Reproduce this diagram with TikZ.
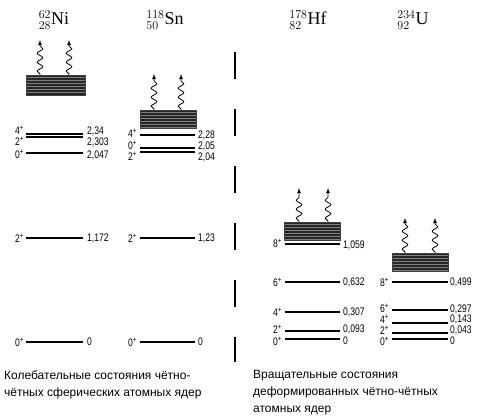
\documentclass[tikz,border=0pt]{standalone}
\usepackage{fontspec}
\setmainfont{Liberation Serif}
\setsansfont{Liberation Sans}
\newfontfamily\narrowfont[FakeStretch=0.78]{Liberation Sans}
\usetikzlibrary{decorations.pathmorphing}

\tikzset{
  level/.style={line width=1.1pt},
  spin/.style={anchor=east, font=\narrowfont\fontsize{11}{11}\selectfont, inner sep=0pt},
  energy/.style={anchor=west, font=\narrowfont\fontsize{11}{11}\selectfont, inner sep=0pt},
  nucleus/.style={font=\fontsize{18}{20}\selectfont},
  band/.style={draw=black!75, fill=black!50, inner sep=0pt, anchor=north west,
    path picture={
      \foreach \i in {1,...,14}
        \draw[black!85, line width=0.7pt]
          ([yshift=-\i*1.5pt]path picture bounding box.north west) --
          ([yshift=-\i*1.5pt]path picture bounding box.north east);
    }},
  photon/.style={-latex, line width=0.8pt, decorate,
    decoration={snake, amplitude=2.8pt, segment length=9pt, pre length=1pt, post length=5pt}},
  caption/.style={anchor=west, align=left, font=\sffamily\fontsize{12}{17}\selectfont, inner sep=0pt}
}

\begin{document}
\begin{tikzpicture}[x=1pt, y=-1pt]
    \useasboundingbox (0,0) rectangle (477,417);

    % Nuclei
    \node[nucleus] (ni) at (54,20) {$^{62}_{28}$Ni};
    \node[nucleus] (sn) at (165,20) {$^{118}_{50}$Sn};
    \node[nucleus] (hf) at (308,20) {$^{178}_{82}$Hf};
    \node[nucleus] (u) at (413,20) {$^{234}_{92}$U};

    % Dashed divider
    \draw[line width=1.3pt, dash pattern=on 27pt off 30pt] (235,52) -- (235,362);

    % Continuum bands
    \node[band, minimum width=59pt, minimum height=20pt] (niband) at (26,75) {};
    \node[band, minimum width=56pt, minimum height=18pt] (snband) at (140,110) {};
    \node[band, minimum width=56pt, minimum height=18pt] (hfband) at (284,222) {};
    \node[band, minimum width=56pt, minimum height=18pt] (uband) at (392,253) {};

    % Emitted gamma rays
    \coordinate (nitip1) at (40,40);
    \coordinate (nitip2) at (69,40);
    \coordinate (sntip1) at (154,74);
    \coordinate (sntip2) at (181,74);
    \coordinate (hftip1) at (299,188);
    \coordinate (hftip2) at (328,188);
    \coordinate (utip1) at (405,218);
    \coordinate (utip2) at (435,218);
    \draw[photon] (niband.north -| nitip1) -- (nitip1);
    \draw[photon] (niband.north -| nitip2) -- (nitip2);
    \draw[photon] (snband.north -| sntip1) -- (sntip1);
    \draw[photon] (snband.north -| sntip2) -- (sntip2);
    \draw[photon] (hfband.north -| hftip1) -- (hftip1);
    \draw[photon] (hfband.north -| hftip2) -- (hftip2);
    \draw[photon] (uband.north -| utip1) -- (utip1);
    \draw[photon] (uband.north -| utip2) -- (utip2);

    % Ni levels: line y / spin y / spin / energy y / energy
    \foreach \y/\sy/\s/\ey/\e [count=\k] in
      {134/130/4/131/{2,34}, 137/141/2/142/{2,303}, 153/154/0/155/{2,047},
       238/238/2/238/{1,172}, 342/342/0/342/0} {
      \draw[level] (26,\y) -- (83,\y);
      \node[spin] (nis\k) at (24,\sy) {\s\textsuperscript{+}};
      \node[energy] (nie\k) at (87,\ey) {\e};
    }

    % Sn levels
    \foreach \y/\sy/\s/\ey/\e [count=\k] in
      {135/133/4/135/{2,28}, 148/145/0/146/{2,05}, 152/156/2/157/{2,04},
       238/238/2/238/{1,23}, 342/342/0/342/0} {
      \draw[level] (140,\y) -- (195,\y);
      \node[spin] (sns\k) at (137,\sy) {\s\textsuperscript{+}};
      \node[energy] (sne\k) at (198,\ey) {\e};
    }

    % Hf levels
    \foreach \y/\sy/\s/\ey/\e [count=\k] in
      {244/243/8/245/{1,059}, 282/282/6/282/{0,632}, 312/312/4/312/{0,307},
       331/329/2/329/{0,093}, 339/341/0/341/0} {
      \draw[level] (285,\y) -- (340,\y);
      \node[spin] (hfs\k) at (282,\sy) {\s\textsuperscript{+}};
      \node[energy] (hfe\k) at (343,\ey) {\e};
    }

    % U levels
    \foreach \y/\sy/\s/\ey/\e [count=\k] in
      {282/282/8/282/{0,499}, 310/308/6/309/{0,297}, 323/319/4/319/{0,143},
       333/330/2/330/{0,043}, 339/341/0/341/0} {
      \draw[level] (392,\y) -- (448,\y);
      \node[spin] (us\k) at (389,\sy) {\s\textsuperscript{+}};
      \node[energy] (ue\k) at (450,\ey) {\e};
    }

    % Captions
    \node[caption] (vibr) at (4,385) {Колебательные состояния чётно-\\чётных сферических атомных ядер};
    \node[caption] (rot) at (253,393) {Вращательные состояния\\деформированных чётно-чётных\\атомных ядер};

\end{tikzpicture}
\end{document}
